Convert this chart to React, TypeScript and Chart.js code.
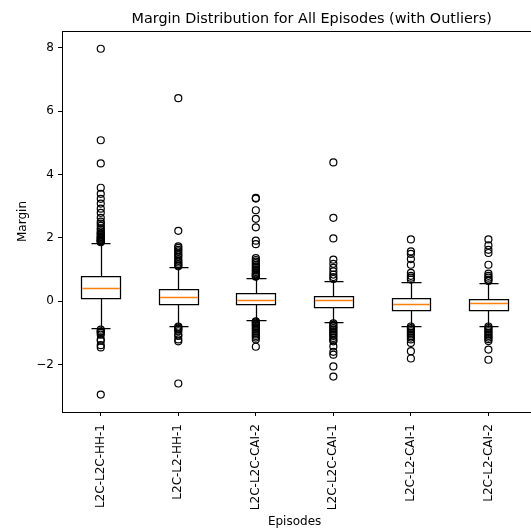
import React, { useEffect, useRef } from 'react';
import { Chart, registerables } from 'chart.js';

Chart.register(...registerables);

const categories = ['L2C-L2C-HH-1', 'L2C-L2-HH-1', 'L2C-L2C-CAI-2', 'L2C-L2C-CAI-1', 'L2C-L2-CAI-1', 'L2C-L2-CAI-2'];
const q1 = [0.10, -0.09, -0.09, -0.18, -0.28, -0.28];
const medians = [0.42, 0.14, 0.05, 0.03, -0.08, -0.07];
const q3 = [0.80, 0.39, 0.26, 0.17, 0.09, 0.08];
const whiskerLow = [-0.86, -0.77, -0.61, -0.66, -0.77, -0.77];
const whiskerHigh = [1.84, 1.09, 0.74, 0.65, 0.62, 0.57];

const outliers1 = [7.97, 5.08, 4.35, 3.58, 3.39, 3.23, 3.08, 2.92, 2.79, 2.63, 2.51, 2.45, 2.38, 2.30, 2.26, 2.20, 2.15, 2.13, 2.10, 2.05, 2.02, 2.00, 1.98, 1.95, 1.93, 1.91, 1.90, 1.88, 1.86, -0.90, -0.95, -0.97, -1.00, -1.06, -1.21, -1.25, -1.39, -1.46, -2.95];
const outliers2 = [6.41, 2.22, 1.73, 1.68, 1.62, 1.57, 1.50, 1.45, 1.40, 1.33, 1.27, 1.22, 1.17, 1.13, 1.10, -0.80, -0.83, -0.87, -0.90, -0.95, -1.05, -1.10, -1.21, -1.27, -2.60];
const outliers3 = [3.26, 3.24, 2.87, 2.60, 2.33, 1.91, 1.80, 1.36, 1.30, 1.25, 1.20, 1.15, 1.10, 1.05, 1.00, 0.96, 0.92, 0.88, 0.85, 0.82, 0.79, 0.77, -0.64, -0.67, -0.70, -0.74, -0.78, -0.82, -0.86, -0.90, -0.95, -1.00, -1.05, -1.10, -1.15, -1.21, -1.44];
const outliers4 = [4.38, 2.63, 1.98, 1.31, 1.18, 1.05, 0.94, 0.84, 0.76, 0.70, -0.70, -0.75, -0.80, -0.85, -0.90, -0.95, -1.00, -1.05, -1.10, -1.16, -1.22, -1.27, -1.43, -1.60, -1.69, -2.06, -2.38];
const outliers5 = [1.95, 1.57, 1.49, 1.33, 1.15, 0.89, 0.80, 0.74, 0.68, -0.80, -0.85, -0.90, -0.95, -1.00, -1.05, -1.10, -1.15, -1.21, -1.32, -1.58, -1.81];
const outliers6 = [1.95, 1.76, 1.62, 1.52, 1.15, 0.87, 0.80, 0.74, 0.68, 0.64, -0.80, -0.85, -0.90, -0.95, -1.00, -1.05, -1.10, -1.15, -1.20, -1.26, -1.53, -1.85];
const allOutliers = [outliers1, outliers2, outliers3, outliers4, outliers5, outliers6];

const yTicks = [-2, 0, 2, 4, 6, 8];
const titleText = 'Margin Distribution for All Episodes (with Outliers)';
const xTitle = 'Episodes';
const yTitle = 'Margin';

const FONT = "'DejaVu Sans', sans-serif";

export default function App() {
  const ref = useRef<HTMLCanvasElement>(null);

  useEffect(() => {
    const canvas = ref.current;
    if (!canvas) return;

    const px = (v: number) => Math.round(v) + 0.5;

    const boxPlugin = {
      id: 'boxes',
      afterDatasetsDraw(chart: any) {
        const { ctx, scales, chartArea } = chart;
        const x = scales.x;
        const y = scales.y;
        ctx.save();
        ctx.lineWidth = 1.25;
        categories.forEach((_, i) => {
          const pos = i + 1;
          const xl = px(x.getPixelForValue(pos - 0.25));
          const xr = px(x.getPixelForValue(pos + 0.25));
          const xc = px(x.getPixelForValue(pos));
          const cl = px(x.getPixelForValue(pos - 0.125));
          const cr = px(x.getPixelForValue(pos + 0.125));
          const yq1 = px(y.getPixelForValue(q1[i]));
          const yq3 = px(y.getPixelForValue(q3[i]));
          const ym = px(y.getPixelForValue(medians[i]));
          const ylo = px(y.getPixelForValue(whiskerLow[i]));
          const yhi = px(y.getPixelForValue(whiskerHigh[i]));
          ctx.strokeStyle = '#000';
          ctx.beginPath();
          ctx.rect(xl, yq3, xr - xl, yq1 - yq3);
          ctx.moveTo(xc, yq1); ctx.lineTo(xc, ylo);
          ctx.moveTo(xc, yq3); ctx.lineTo(xc, yhi);
          ctx.moveTo(cl, ylo); ctx.lineTo(cr, ylo);
          ctx.moveTo(cl, yhi); ctx.lineTo(cr, yhi);
          ctx.stroke();
          ctx.strokeStyle = '#ff7f0e';
          ctx.lineWidth = 1.5;
          ctx.beginPath();
          ctx.moveTo(xl + 0.6, ym); ctx.lineTo(xr - 0.6, ym);
          ctx.stroke();
          ctx.lineWidth = 1.25;
        });
        // top spine
        ctx.strokeStyle = '#000';
        ctx.lineWidth = 1;
        ctx.beginPath();
        ctx.moveTo(chartArea.left, px(chartArea.top));
        ctx.lineTo(chartArea.right, px(chartArea.top));
        ctx.stroke();
        // title
        ctx.fillStyle = '#000';
        ctx.font = `14.4px ${FONT}`;
        ctx.textAlign = 'center';
        ctx.textBaseline = 'alphabetic';
        ctx.fillText(titleText, (chartArea.left + chartArea.right) / 2, 23);
        // x axis title, centred under the box positions
        ctx.font = `12px ${FONT}`;
        ctx.textBaseline = 'middle';
        ctx.fillText(xTitle, x.getPixelForValue(3.5), 522);
        ctx.restore();
      },
    };

    const scatterData: { x: number; y: number }[] = [];
    allOutliers.forEach((arr, i) => arr.forEach((v) => scatterData.push({ x: i + 1, y: v })));

    const chart = new Chart(canvas, {
      type: 'scatter',
      data: {
        datasets: [
          {
            data: scatterData,
            pointStyle: 'circle',
            pointRadius: 3.5,
            pointBorderWidth: 1.2,
            pointBorderColor: '#000',
            pointBackgroundColor: 'rgba(0,0,0,0)',
            pointHoverRadius: 3.5,
          },
        ],
      },
      options: {
        responsive: false,
        animation: false,
        devicePixelRatio: 1,
        layout: { padding: { top: 31, right: 0, bottom: 0, left: 0 } },
        plugins: {
          legend: { display: false },
          tooltip: { enabled: false },
          title: { display: false },
        },
        scales: {
          x: {
            type: 'linear',
            min: 0.5,
            max: 6.94,
            afterBuildTicks: (scale: any) => {
              scale.ticks = categories.map((_, i) => ({ value: i + 1 }));
            },
            afterFit: (scale: any) => {
              scale.height = 117;
            },
            ticks: {
              autoSkip: false,
              minRotation: 90,
              maxRotation: 90,
              padding: 8,
              color: '#000',
              font: { family: FONT, size: 12 },
              callback: (v: any) => categories[Math.round(Number(v)) - 1] ?? '',
            },
            grid: { drawOnChartArea: false, drawTicks: true, tickLength: 4, color: '#000', tickWidth: 1 },
            border: { display: true, color: '#000', width: 1 },
            title: { display: false },
          },
          y: {
            type: 'linear',
            min: -3.5,
            max: 8.53,
            afterBuildTicks: (scale: any) => {
              scale.ticks = yTicks.map((v) => ({ value: v }));
            },
            afterFit: (scale: any) => {
              scale.width = 62;
            },
            ticks: {
              padding: 4,
              color: '#000',
              font: { family: FONT, size: 12 },
              callback: (v: any) => {
                const n = Number(v);
                return n < 0 ? '\u2212' + Math.abs(n) : String(n);
              },
            },
            grid: { drawOnChartArea: false, drawTicks: true, tickLength: 4, color: '#000', tickWidth: 1 },
            border: { display: true, color: '#000', width: 1 },
            title: {
              display: true,
              text: yTitle,
              color: '#000',
              font: { family: FONT, size: 12 },
              padding: { top: 16, bottom: 0 },
            },
          },
        },
      },
      plugins: [boxPlugin],
    } as any);

    return () => chart.destroy();
  }, []);

  return (
    <div style={{ position: 'fixed', left: 0, top: 0, width: 531, height: 529, overflow: 'hidden', background: '#fff' }}>
      <canvas ref={ref} width={566} height={529} style={{ width: 566, height: 529, display: 'block' }} />
    </div>
  );
}
